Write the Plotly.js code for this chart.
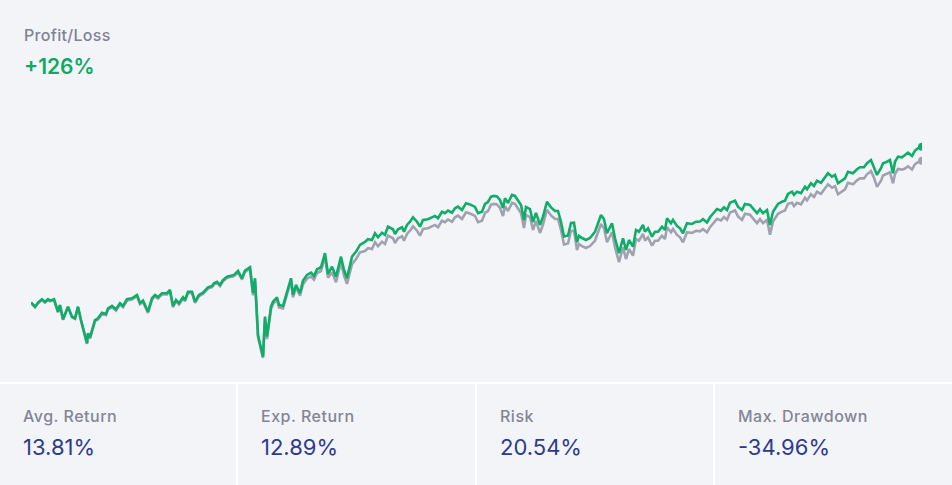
<!DOCTYPE html>
<html>
<head>
<meta charset="utf-8">
<script src="https://cdn.plot.ly/plotly-3.0.1.min.js"></script>
<style>
  html, body { margin: 0; padding: 0; background: #f3f4f8; }
  #wrap { position: relative; width: 952px; height: 485px; background: #f3f4f8; overflow: hidden; font-family: Inter, "Noto Sans", sans-serif; }
  #chart { position: absolute; left: 0; top: 0; width: 952px; height: 383px; }
  #head { position: absolute; left: 24px; top: 24px; }
  #head .lbl { font-size: 16px; letter-spacing: 0.3px; color: #7f8294; font-weight: 500; line-height: 22px; }
  #head .val { font-size: 21px; color: #11a866; font-weight: 600; line-height: 26px; margin-top: 8px; }
  #stats { position: absolute; left: 0; top: 382px; width: 952px; height: 103px; border-top: 2px solid #ffffff; display: flex; }
  .cell { position: relative; height: 103px; box-sizing: border-box; padding-left: 23px; }
  .cell + .cell { border-left: 2px solid #ffffff; }
  .cell .lbl { position: absolute; top: 22px; font-size: 16px; letter-spacing: 0.5px; color: #838596; font-weight: 500; white-space: nowrap; }
  .cell .val { position: absolute; top: 50px; font-size: 22px; color: #2e3b8c; font-weight: 400; white-space: nowrap; }
</style>
</head>
<body>
<div id="wrap">
  <div id="chart"></div>
  <div id="head"><div class="lbl" id="titleLbl"></div><div class="val" id="titleVal"></div></div>
  <div id="stats"></div>
</div>
<script>
// ---- data (percent return since start; period = time index) ----
const titleLabel = "Profit/Loss";
const totalReturn = "+126%";

const statLabels = ["Avg. Return", "Exp. Return", "Risk", "Max. Drawdown"];
const statValues = ["13.81%", "12.89%", "20.54%", "-34.96%"];

const period = [0,4,7,11,14,17,19,23,27,29,32,37,41,44,47,50,56,57,59,64,67,71,75,77,81,85,89,92,96,101,106,109,112,117,121,124,127,131,136,139,142,145,148,152,154,157,161,164,168,172,177,181,183,186,189,192,196,200,203,207,211,214,219,222,224,227,232,234,236,240,242,246,248,252,256,260,262,265,269,272,276,280,283,286,290,294,297,301,305,310,313,316,321,325,329,334,337,341,344,347,351,354,357,362,364,367,371,373,376,379,382,386,389,392,397,401,404,407,411,414,417,421,424,427,431,435,439,444,447,451,454,457,460,463,466,469,472,474,477,481,484,487,490,493,495,499,502,505,509,512,516,520,524,527,530,533,537,540,543,546,548,551,555,559,564,570,573,576,581,584,588,592,595,598,602,605,608,612,614,617,621,624,627,631,634,636,640,642,646,649,652,656,661,665,669,672,676,679,683,686,690,693,696,699,704,707,711,714,719,723,726,729,732,736,739,742,747,751,754,757,761,763,766,770,774,776,780,783,786,790,793,797,801,804,807,811,814,817,822,826,829,833,836,840,843,846,850,852,856,859,862,864,867,871,874,877,881,884,887,891];

const strategy = [0.0,-3.4,-0.2,2.6,0.4,2.6,1.5,2.6,-7.5,-2.0,-13.6,-3.4,-11.5,-12.8,-3.4,-14.2,-33.0,-24.9,-28.2,-14.2,-12.8,-8.3,-9.3,-4.7,-2.8,-5.5,-0.6,-2.8,2.6,3.4,6.1,-0.4,1.5,-7.5,3.4,6.1,4.2,7.5,7.5,10.1,-2.8,2.0,-0.6,4.2,2.0,8.7,8.7,0.6,6.1,7.9,12.3,13.4,15.6,16.8,14.2,18.2,20.9,21.5,22.3,25.5,19.6,25.8,28.5,7.7,19.6,-26.3,-43.9,-11.5,-27.7,-3.4,0.6,4.2,-2.0,-2.8,8.7,19.6,6.1,14.2,7.5,17.7,22.3,24.1,21.5,26.9,28.5,39.9,23.1,29.0,20.9,37.1,26.3,19.6,37.1,41.1,46.6,49.0,51.2,50.6,56.1,52.8,56.5,54.7,61.4,59.3,55.5,59.3,60.9,57.3,62.8,65.4,69.0,65.4,61.4,66.8,67.4,69.0,70.1,68.2,73.5,72.3,74.4,72.7,76.3,77.6,74.9,80.4,79.4,77.4,72.3,73.5,79.8,81.4,85.7,86.3,85.9,83.0,76.5,84.4,80.6,87.1,86.3,82.6,79.0,66.8,77.4,75.7,65.2,72.5,62.8,69.5,81.6,77.0,74.1,74.1,65.2,53.5,54.3,64.4,64.6,49.0,53.9,52.2,50.6,52.2,57.3,70.9,67.4,56.1,64.2,52.0,39.9,52.0,42.5,50.6,45.2,58.7,57.3,62.8,57.3,60.1,53.3,57.3,57.3,61.4,58.7,68.2,64.2,66.8,62.0,60.1,56.1,64.2,63.6,65.4,65.6,67.4,64.8,69.0,72.7,75.7,74.4,77.1,74.9,80.8,82.5,77.6,74.9,79.8,79.0,74.9,72.3,75.5,72.3,74.9,62.8,73.5,79.8,81.6,82.5,87.9,89.7,87.1,89.7,88.5,93.8,91.7,96.6,94.4,98.7,97.0,100.6,104.7,101.9,103.3,96.6,99.2,100.6,105.9,104.7,107.9,109.5,109.5,112.8,115.4,110.0,103.3,108.7,112.8,114.0,115.4,104.7,114.0,118.1,117.6,119.5,121.3,118.7,123.0,124.9,126.2];

const benchmark = [-0.5,-3.9,-0.7,2.1,-0.1,2.1,1.0,2.1,-8.0,-2.5,-14.1,-3.9,-12.0,-13.3,-3.9,-14.7,-33.5,-25.4,-29.2,-15.2,-13.8,-9.3,-10.3,-5.7,-3.8,-6.5,-1.6,-3.8,1.6,2.4,5.1,-1.4,0.5,-8.5,2.4,5.1,3.2,6.5,6.5,9.1,-3.8,1.0,-1.6,3.2,1.0,7.7,7.7,-0.4,5.1,6.9,11.3,12.4,14.6,15.8,13.2,17.2,19.9,20.5,21.3,24.5,18.6,24.8,27.5,5.7,17.6,-28.3,-44.9,-13.5,-29.7,-5.4,-1.4,2.2,-4.0,-4.8,6.7,17.6,4.1,12.2,5.5,14.7,19.3,21.1,18.5,23.9,25.5,36.9,20.1,24.5,16.4,32.6,21.8,15.1,31.1,35.1,40.6,41.7,43.9,43.3,48.8,45.5,49.2,47.4,54.1,52.0,48.2,52.0,53.6,50.0,55.5,58.1,61.7,58.1,54.1,59.5,60.1,61.7,62.8,60.9,66.2,65.0,67.1,65.4,69.0,70.3,67.6,73.1,72.1,70.1,65.0,66.2,72.5,74.1,79.2,79.8,79.4,76.5,70.0,77.9,74.1,80.6,79.8,76.1,72.5,60.3,70.9,69.2,58.7,66.0,56.3,63.0,75.1,70.5,67.6,67.6,58.7,47.0,47.8,57.9,58.1,42.5,47.4,45.7,44.1,45.7,50.0,63.6,60.1,48.8,56.9,44.7,32.6,44.7,35.2,43.3,37.9,51.4,50.0,55.5,50.0,52.8,46.0,50.0,50.0,54.1,51.4,60.9,56.9,59.5,54.7,52.8,48.8,56.9,56.3,58.1,57.6,59.4,56.8,61.0,64.7,67.7,66.4,69.1,66.9,72.8,74.5,69.6,66.9,71.8,71.0,66.9,64.3,67.5,64.3,66.9,54.8,65.5,71.8,73.6,74.5,79.9,80.7,78.1,80.7,79.5,84.8,82.7,87.6,85.4,89.7,88.0,91.6,95.7,92.9,94.3,87.6,90.2,91.6,96.9,95.7,98.9,100.5,100.5,103.8,106.4,101.0,93.6,98.7,102.8,104.0,105.4,96.5,104.0,108.1,107.6,108.5,110.3,107.7,112.0,113.6,114.7];

// ---- styles ----
const greenColor = "#10ad68";
const greyColor = "#a1a2af";

document.getElementById("titleLbl").textContent = titleLabel;
document.getElementById("titleVal").textContent = totalReturn;
const stats = document.getElementById("stats");
const widths = [236, 239, 238, 239];
statLabels.forEach((l, i) => {
  const c = document.createElement("div");
  c.className = "cell";
  c.style.width = widths[i] + "px";
  c.innerHTML = '<div class="lbl"></div><div class="val"></div>';
  c.querySelector(".lbl").textContent = l;
  c.querySelector(".val").textContent = statValues[i];
  stats.appendChild(c);
});

const last = period.length - 1;
const traces = [
  { x: period, y: benchmark, type: "scatter", mode: "lines", line: { color: greyColor, width: 2.6 }, hoverinfo: "skip" },
  { x: period, y: strategy, type: "scatter", mode: "lines", line: { color: greenColor, width: 2.6 }, hoverinfo: "skip" },
  { x: [period[last]], y: [benchmark[last]], type: "scatter", mode: "markers", marker: { color: greyColor, size: 8 }, hoverinfo: "skip" },
  { x: [period[last]], y: [strategy[last]], type: "scatter", mode: "markers", marker: { color: greenColor, size: 8 }, hoverinfo: "skip" }
];

const layout = {
  width: 952, height: 383,
  margin: { l: 31, r: 30, t: 120, b: 13 },
  paper_bgcolor: "rgba(0,0,0,0)",
  plot_bgcolor: "rgba(0,0,0,0)",
  showlegend: false,
  hovermode: false,
  xaxis: { range: [0, 891], visible: false, showgrid: false, zeroline: false, fixedrange: true },
  yaxis: { range: [-54.7, 147.8], visible: false, showgrid: false, zeroline: false, fixedrange: true }
};

Plotly.newPlot("chart", traces, layout, { displayModeBar: false, staticPlot: true });
</script>
</body>
</html>
